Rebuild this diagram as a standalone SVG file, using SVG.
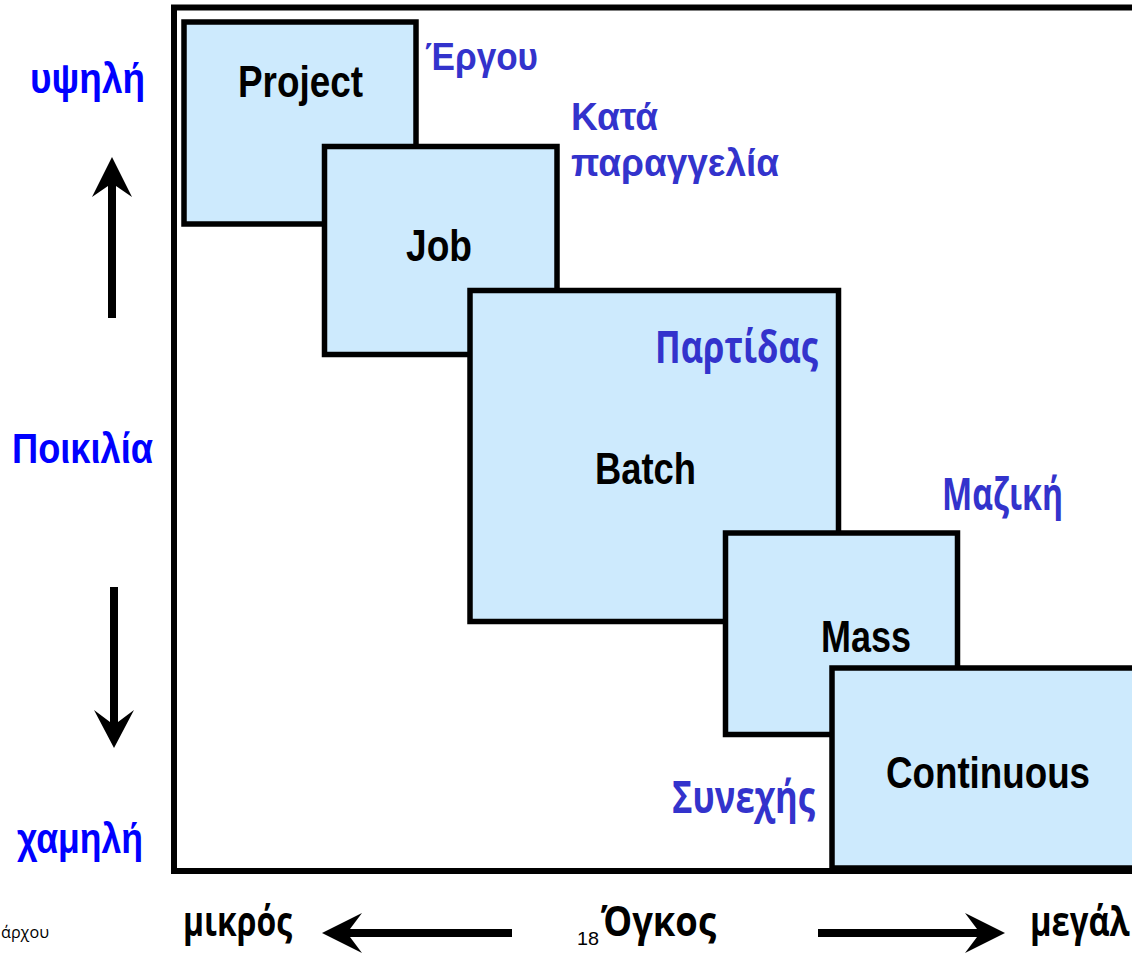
<svg xmlns="http://www.w3.org/2000/svg" width="1132" height="953" viewBox="0 0 1132 953">
<style>
.box{fill:#cdeafd;stroke:#000;stroke-width:5.5}
.lbl{font-family:"Liberation Sans",Arial,sans-serif;font-weight:bold;font-size:44px;fill:#000}
.blue{font-family:"Liberation Sans",Arial,sans-serif;font-weight:bold;font-size:38px;fill:#3333cc}
.blue2{font-family:"Open Sans","Noto Sans",sans-serif;font-weight:bold;font-size:44px;fill:#3333cc}
.side{font-family:"Liberation Sans",Arial,sans-serif;font-weight:bold;font-size:43px;fill:#0000ff}
.bot{font-family:"Open Sans","Noto Sans",sans-serif;font-weight:bold;font-size:42px;fill:#000}
.arr{fill:#000}
</style>
<rect x="0" y="0" width="1132" height="953" fill="#fff"/>
<rect id="frame" x="174" y="7.5" width="970" height="863.5" fill="#fff" stroke="#000" stroke-width="6"/>
<g id="project"><rect class="box" x="184" y="22" width="232" height="202"/><text class="lbl" x="238" y="97" textLength="125" lengthAdjust="spacingAndGlyphs">Project</text></g>
<g id="job"><rect class="box" x="324.5" y="146.5" width="232.5" height="208"/><text class="lbl" x="406" y="261" textLength="66" lengthAdjust="spacingAndGlyphs">Job</text></g>
<g id="batch"><rect class="box" x="470" y="290.5" width="368.5" height="331"/><text class="lbl" x="595" y="484" textLength="101" lengthAdjust="spacingAndGlyphs">Batch</text></g>
<g id="mass"><rect class="box" x="725.5" y="533" width="232" height="201.5"/><text class="lbl" x="821" y="652" textLength="90" lengthAdjust="spacingAndGlyphs">Mass</text></g>
<g id="continuous"><rect class="box" x="832" y="668" width="310" height="200"/><text class="lbl" x="886" y="788" textLength="204" lengthAdjust="spacingAndGlyphs">Continuous</text></g>
<g id="labels">
<text class="blue" x="425" y="70" textLength="113" lengthAdjust="spacingAndGlyphs">Έργου</text>
<text class="blue" x="571" y="130" textLength="87" lengthAdjust="spacingAndGlyphs">Κατά</text>
<text class="blue" x="571" y="176" textLength="208" lengthAdjust="spacingAndGlyphs">παραγγελία</text>
<text class="blue2" x="655" y="363" textLength="163" lengthAdjust="spacingAndGlyphs">Παρτίδας</text>
<text class="blue2" x="942" y="510" textLength="121" lengthAdjust="spacingAndGlyphs">Μαζική</text>
<text class="blue2" x="672" y="813" textLength="143" lengthAdjust="spacingAndGlyphs">Συνεχής</text>
<text class="side" x="30" y="93" textLength="115" lengthAdjust="spacingAndGlyphs">υψηλή</text>
<text class="side" x="12" y="463" textLength="141" lengthAdjust="spacingAndGlyphs">Ποικιλία</text>
<text class="side" x="17" y="853" textLength="126" lengthAdjust="spacingAndGlyphs">χαμηλή</text>
<text x="1" y="938" font-family="'Open Sans','Noto Sans',sans-serif" font-size="17" fill="#000" textLength="48" lengthAdjust="spacingAndGlyphs">άρχου</text>
<text class="bot" x="183" y="936" textLength="109" lengthAdjust="spacingAndGlyphs">μικρός</text>
<text x="577" y="945" font-family="'Liberation Sans',Arial,sans-serif" font-size="19" fill="#000" textLength="22" lengthAdjust="spacingAndGlyphs">18</text>
<text class="bot" x="601" y="936" textLength="115" lengthAdjust="spacingAndGlyphs">Όγκος</text>
<text class="bot" transform="translate(1030 936) scale(0.78 1)" x="0" y="0">μεγάλ</text>
</g>
<g id="connectors">
<path class="arr" d="M108 318 L108 186 L92 197 L112 157 L132 197 L116 186 L116 318 Z"/>
<path class="arr" d="M110 587 L110 722 L94 710 L114 748 L134 710 L118 722 L118 587 Z"/>
<path class="arr" d="M512 929 L350 929 L362 913 L322 933 L362 953 L350 937 L512 937 Z"/>
<path class="arr" d="M818 929 L977 929 L965 913 L1005 933 L965 953 L977 937 L818 937 Z"/>
</g>
</svg>
